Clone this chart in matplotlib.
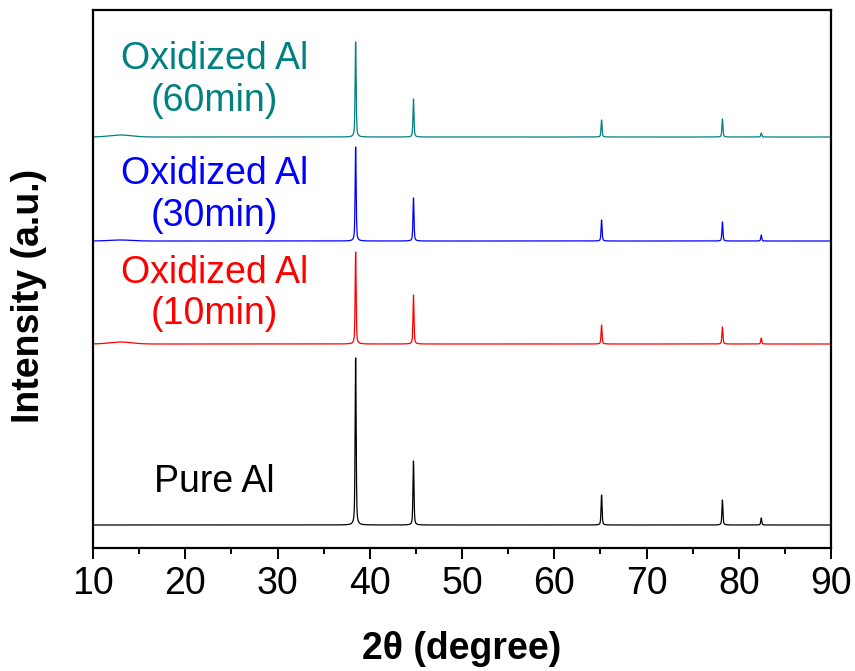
import numpy as np
import matplotlib
matplotlib.use("Agg")
import matplotlib.pyplot as plt
from matplotlib.ticker import MultipleLocator

plt.rcParams["font.family"] = ["Liberation Sans", "DejaVu Sans"]

# Al reflections (2theta, degree)
peak_positions = [38.47, 44.74, 65.13, 78.23, 82.44]

# Peak intensities (a.u.) for each sample
pure_al = [167, 64, 30, 25, 7]
oxidized_10 = [92, 49, 19, 17, 6]
oxidized_30 = [94, 43, 21, 19, 6]
oxidized_60 = [95, 38, 17, 18, 4]

# Weak broad amorphous hump near 13 degree
hump_position = 13.0
hump_heights = [0.0, 2.0, 1.0, 2.0]

# Vertical stacking offsets
offsets = [23, 204, 307, 411]

labels = ["Pure Al", "Oxidized Al\n(10min)", "Oxidized Al\n(30min)", "Oxidized Al\n(60min)"]
colors = ["black", "#ff0000", "#0000ff", "#008080"]
series = [pure_al, oxidized_10, oxidized_30, oxidized_60]

x = np.arange(10.0, 90.0001, 0.01)


def pattern(heights, hump):
    y = np.zeros_like(x)
    fwhm = 0.13
    g = fwhm / 2
    for pos, h in zip(peak_positions, heights):
        lor = 1.0 / (1.0 + ((x - pos) / g) ** 2)
        gau = np.exp(-np.log(2) * ((x - pos) / g) ** 2)
        y += h * (0.5 * lor + 0.5 * gau)
    y += hump * np.exp(-0.5 * ((x - hump_position) / 1.2) ** 2)
    return y


fig = plt.figure(figsize=(8.55, 6.71), dpi=100)
ax = fig.add_axes([93 / 855, 1 - 548 / 671, 738 / 855, 538 / 671])

for heights, hump, off, c in zip(series, hump_heights, offsets, colors):
    ax.plot(x, pattern(heights, hump) + off, color=c, lw=0.9)

ax.set_xlim(10, 90)
ax.set_ylim(0, 538)
ax.xaxis.set_major_locator(MultipleLocator(10))
ax.xaxis.set_minor_locator(MultipleLocator(5))
ax.set_yticks([])
ax.tick_params(axis="x", which="major", direction="out", length=8, width=1.4,
               labelsize=27, pad=5)
ax.tick_params(axis="x", which="minor", direction="out", length=4, width=1.4)
for s in ax.spines.values():
    s.set_linewidth(1.6)

label_pos = [(0.164, 0.123), (0.165, 0.473), (0.165, 0.656), (0.165, 0.870)]
for lab, (px, py), c in zip(labels, label_pos, colors):
    ax.text(px, py, lab, color=c, fontsize=27, ha="center", va="center",
            transform=ax.transAxes, linespacing=1.2)

fig.text(462 / 855, 1 - 649 / 671, "2θ (degree)", fontsize=27, fontweight="bold",
         ha="center", va="center")
fig.text(29 / 855, 1 - 296 / 671, "Intensity (a.u.)", fontsize=27, fontweight="bold",
         ha="center", va="center", rotation=90)

fig.savefig("out.png", dpi=100)
